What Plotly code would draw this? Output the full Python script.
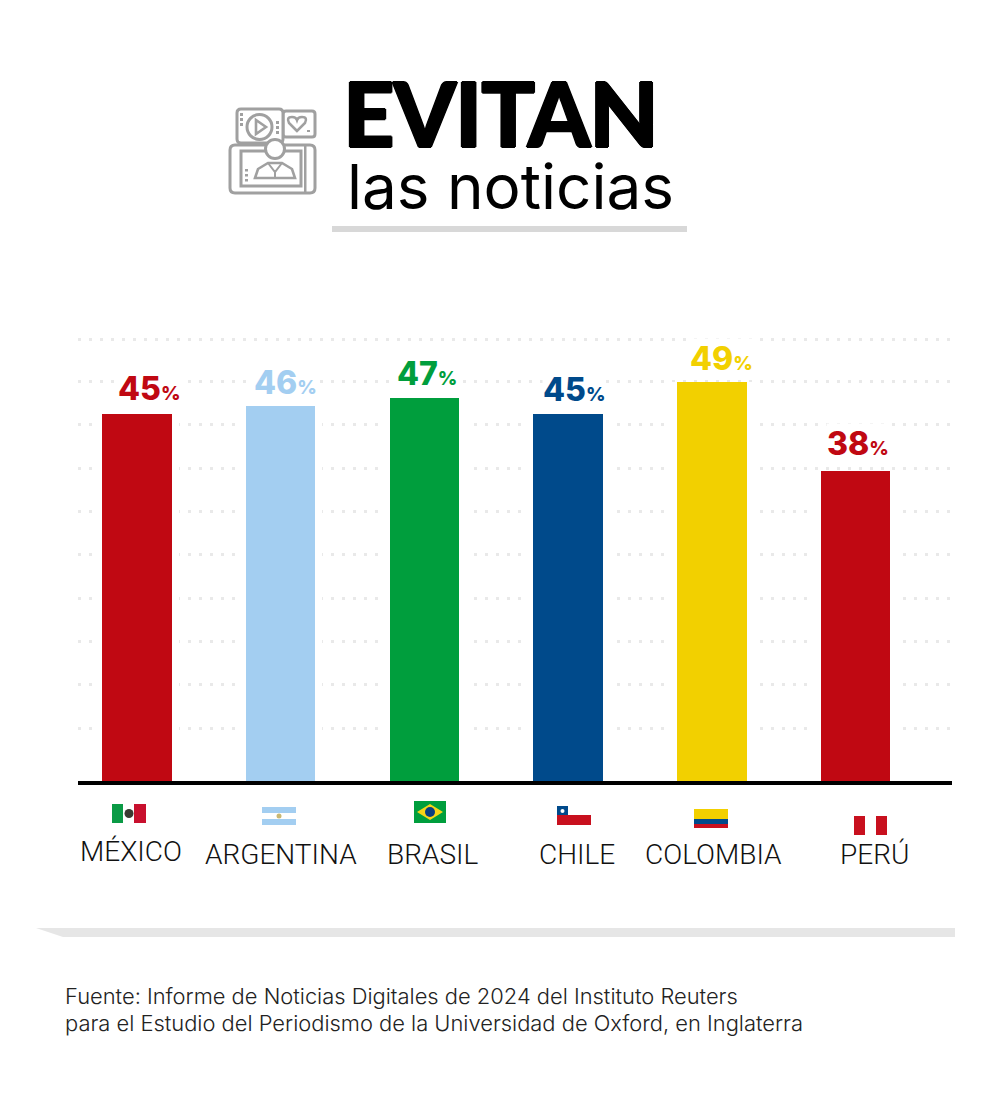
import plotly.graph_objects as go

# Chart data
countries = ["MÉXICO", "ARGENTINA", "BRASIL", "CHILE", "COLOMBIA", "PERÚ"]
percentages = [45, 46, 47, 45, 49, 38]
bar_colors = ["#C00812", "#A3CEF1", "#009E3D", "#004A8B", "#F2D000", "#C00812"]
label_colors = ["#C00812", "#A3CEF1", "#009E3D", "#004A8B", "#F2D000", "#C00812"]
grid_values = [6.5, 11.8, 17.1, 22.4, 27.8, 33.1, 38.4, 43.7, 49.0, 54.2]

title_top = "EVITAN"
title_bottom = "las noticias"
source_lines = [
    "Fuente: Informe de Noticias Digitales de 2024 del Instituto Reuters",
    "para el Estudio del Periodismo de la Universidad de Oxford, en Inglaterra",
]

# Page geometry
W, H = 1000, 1115
LEFT, RIGHT = 78, 952
BASE_Y, PX_PER_UNIT = 781, 8.15
TOP_Y = 330
FIRST_BAR, BAR_STEP = 137, 143.7
value_shift = [12, 5, 3, 6, 10, 2]
value_lift = [5, 3, 4, 4, 3, 7]
name_shift = [-6, 0, 9, 9, 2, 19]
name_y = [851, 854, 854, 854, 854, 854]


def px(x):
    return x / W


def py(y):
    return 1 - y / H


def path(cmds):
    """Build an SVG path in paper fractions from page-pixel commands."""
    out = []
    for c in cmds:
        if isinstance(c, str):
            out.append(c)
        else:
            out.append(f"{px(c[0]):.5f},{py(c[1]):.5f}")
    return " ".join(out)


def rect(x0, y0, x1, y1, fill, line=None, lw=0):
    return dict(type="rect", xref="paper", yref="paper", x0=px(x0), x1=px(x1),
                y0=py(y0), y1=py(y1), fillcolor=fill,
                line=dict(color=line or fill, width=lw), layer="above")


def rounded(x0, y0, x1, y1, r, color, lw=3, fill="#ffffff"):
    cmds = ["M", (x0 + r, y0), "L", (x1 - r, y0), "Q", (x1, y0), (x1, y0 + r),
            "L", (x1, y1 - r), "Q", (x1, y1), (x1 - r, y1),
            "L", (x0 + r, y1), "Q", (x0, y1), (x0, y1 - r),
            "L", (x0, y0 + r), "Q", (x0, y0), (x0 + r, y0), "Z"]
    return dict(type="path", xref="paper", yref="paper", path=path(cmds),
                line=dict(color=color, width=lw), fillcolor=fill, layer="above")


def circle(cx, cy, r, fill, line=None, lw=0):
    return dict(type="circle", xref="paper", yref="paper",
                x0=px(cx - r), x1=px(cx + r), y0=py(cy - r), y1=py(cy + r),
                fillcolor=fill, line=dict(color=line or fill, width=lw), layer="above")


def poly(points, fill="rgba(0,0,0,0)", line=None, lw=0, closed=True):
    cmds = []
    for i, p in enumerate(points):
        cmds += ["M" if i == 0 else "L", p]
    if closed:
        cmds.append("Z")
    return dict(type="path", xref="paper", yref="paper", path=path(cmds),
                fillcolor=fill, line=dict(color=line or fill, width=lw), layer="above")


fig = go.Figure()

# White halo that clears the dotted grid around each column
fig.add_trace(go.Bar(x=countries, y=percentages, width=0.58,
                     marker=dict(color="#ffffff", line=dict(width=0)), hoverinfo="skip"))
fig.add_trace(go.Bar(x=countries, y=percentages, width=0.484,
                     marker=dict(color=bar_colors, line=dict(width=0))))

shapes = []

# Rule under the headline and band above the source note
shapes.append(rect(332, 226, 687, 232, "#D8D8D8"))
shapes.append(poly([(36, 928), (955, 928), (955, 937), (63, 937)], fill="#E6E6E6"))

# Headline icon: video card, heart card, tablet and presenter
GREY = "#A0A0A0"
shapes.append(rounded(283, 111, 315, 137, 3, GREY))
shapes.append(rounded(237, 109, 283, 143, 4, GREY))
shapes.append(circle(259.5, 127, 12.5, "#ffffff", GREY, 3))
shapes.append(poly([(256, 120), (266, 127), (256, 134)], line=GREY, lw=2.6, fill="#ffffff"))
shapes.append(dict(type="path", xref="paper", yref="paper", layer="above",
                   fillcolor="#ffffff", line=dict(color=GREY, width=2.6),
                   path=path(["M", (297, 131), "L", (289, 123), "Q", (286, 117), (292, 117),
                              "Q", (296, 117), (297, 120), "Q", (298, 117), (302, 117),
                              "Q", (308, 117), (305, 123), "Z"])))
for dy in (113, 118, 123):
    shapes.append(rect(240, dy, 243, dy + 3, GREY))
for dy in (121, 126, 131):
    shapes.append(rect(276, dy, 279, dy + 3, GREY))
shapes.append(rect(307, 130, 310, 132, GREY))
shapes.append(rounded(230, 145, 315, 193, 5, GREY))
shapes.append(rect(241, 151, 301, 186, "#ffffff", GREY, 3))
shapes.append(rect(305, 146, 305.5, 192, GREY, GREY, 2))
shapes.append(poly([(255, 178), (258, 169), (268, 163), (282, 163), (292, 169), (295, 178)],
                   fill="#ffffff", line=GREY, lw=2.6))
shapes.append(poly([(268, 163), (275, 172), (282, 163)], line=GREY, lw=2, closed=False))
shapes.append(poly([(275, 170), (275, 178)], line=GREY, lw=2, closed=False))
for dy in (169, 174, 179):
    shapes.append(rect(245, dy, 248, dy + 2.5, GREY))
shapes.append(circle(275, 149, 9.5, "#ffffff", GREY, 3))

# Flags
MX_G, MX_R = "#0A9A45", "#C8102E"
shapes += [rect(112, 804, 123, 823, MX_G), rect(134, 804, 146, 823, MX_R),
           circle(129, 813.5, 4.5, "#3A3A32")]
AR = "#A3CEF1"
shapes += [rect(262, 807, 296, 813, AR), rect(262, 819, 296, 825, AR),
           circle(279, 816, 2.5, "#C9B873")]
shapes += [rect(414, 801, 446, 823, "#009E3D"),
           poly([(417, 812), (430, 804), (443, 812), (430, 820)], fill="#F7D417"),
           circle(430, 812, 5, "#0A3D80")]
shapes += [rect(557, 815, 591, 825, "#C8101E"), rect(557, 806, 568, 815, "#004A8B"),
           circle(562.5, 811, 2, "#ffffff")]
shapes += [rect(694, 809, 728, 819, "#F2D000"), rect(694, 819, 728, 824, "#004A8B"),
           rect(694, 824, 728, 828, "#C8101E")]
shapes += [rect(854, 816, 865, 835, "#C8101E"), rect(876, 816, 887, 835, "#C8101E")]

annotations = []


def page_text(x, y, text, size, weight=400, color="#000000", anchor="left",
              family="Inter", bg=None, shadow=None):
    font = dict(family=family, size=size, weight=weight, color=color)
    if shadow:
        font["shadow"] = shadow
    annotations.append(dict(xref="paper", yref="paper", x=px(x), y=py(y), text=text,
                            showarrow=False, xanchor=anchor, yanchor="middle",
                            align=anchor, bgcolor=bg, font=font))


# Headline: the offset shadows thicken the strokes to a black weight
page_text(341, 112, f"<span style='letter-spacing:-1.4px'>{title_top}</span>", 90, 900,
          family="Lato", shadow="1px 0 0 #000, -1px 0 0 #000, 0 1px 0 #000, 0 -1px 0 #000")
page_text(345, 186, title_bottom, 62, 400)

# Value labels above the columns
for c, v, col, sh, lift in zip(countries, percentages, label_colors, value_shift, value_lift):
    annotations.append(dict(x=c, y=v, yref="y", xref="x", yanchor="bottom", xanchor="center",
                            xshift=sh, yshift=lift, showarrow=False, bgcolor="#ffffff",
                            borderpad=0,
                            text=f"{v}<span style='font-size:19px'>%</span>",
                            font=dict(family="Inter", size=32, weight=800, color=col)))

# Country names under the axis
for i, (c, sh, ny) in enumerate(zip(countries, name_shift, name_y)):
    page_text(FIRST_BAR + BAR_STEP * i + sh, ny, c, 28, 300, "#111111", "center", "Roboto")

for line, y in zip(source_lines, (996, 1023)):
    page_text(63, y, line, 21.9, 300, "#222222", "left", "Inter")

x_lo = (LEFT - FIRST_BAR) / BAR_STEP
x_hi = (RIGHT - FIRST_BAR) / BAR_STEP

fig.update_layout(
    width=W, height=H, margin=dict(l=0, r=0, t=0, b=0),
    paper_bgcolor="#ffffff", plot_bgcolor="#ffffff",
    barmode="overlay", showlegend=False, bargap=0,
    xaxis=dict(domain=[px(LEFT), px(RIGHT)], type="category", categoryorder="array",
               categoryarray=countries, range=[x_lo, x_hi], showticklabels=False,
               ticks="", showgrid=False, zeroline=False, showline=True,
               linecolor="#000000", linewidth=3.5),
    yaxis=dict(domain=[py(BASE_Y), py(TOP_Y)], range=[0, (BASE_Y - TOP_Y) / PX_PER_UNIT],
               tickmode="array", tickvals=grid_values, showticklabels=False, ticks="",
               showgrid=True, gridcolor="#E9E9E9", gridwidth=3, griddash="3px,8px",
               zeroline=False, showline=False),
    shapes=shapes, annotations=annotations,
)

fig.write_html("out.html", config=dict(displayModeBar=False))
